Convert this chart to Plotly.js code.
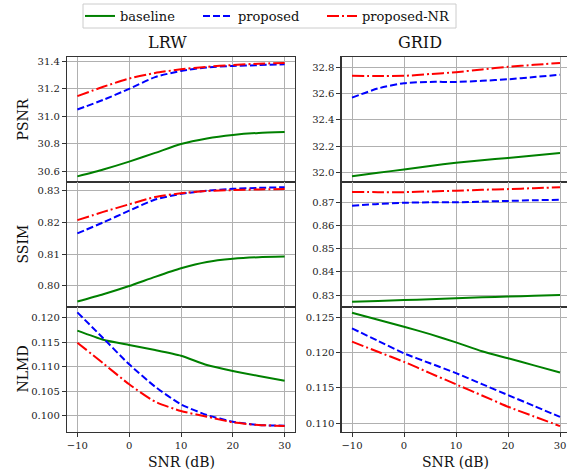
<!DOCTYPE html>
<html>
<head>
<meta charset="utf-8">
<script src="https://cdn.plot.ly/plotly-3.0.1.min.js"></script>
<style>html,body{margin:0;padding:0;background:#fff;}#chart{width:567px;height:471px;}</style>
</head>
<body>
<div id="chart"></div>
<script>
// SNR values (dB)
const snr = [-10, -5, 0, 5, 10, 15, 20, 25, 30];

// LRW
const lrwPsnrBaseline = [30.565, 30.615, 30.672, 30.735, 30.80, 30.84, 30.865, 30.88, 30.887];
const lrwPsnrProposed = [31.05, 31.12, 31.20, 31.285, 31.33, 31.355, 31.366, 31.372, 31.378];
const lrwPsnrProposedNR = [31.147, 31.215, 31.275, 31.315, 31.342, 31.36, 31.373, 31.382, 31.388];

const lrwSsimBaseline = [0.7950, 0.7973, 0.7999, 0.8028, 0.8055, 0.8075, 0.8085, 0.8090, 0.8092];
const lrwSsimProposed = [0.8165, 0.8200, 0.8237, 0.8272, 0.8290, 0.8300, 0.8306, 0.8309, 0.8311];
const lrwSsimProposedNR = [0.8207, 0.8233, 0.8257, 0.8280, 0.8292, 0.8299, 0.8302, 0.8304, 0.8305];

const lrwNlmdBaseline = [0.11735, 0.1155, 0.11442, 0.1134, 0.11224, 0.11034, 0.10912, 0.1081, 0.10714];
const lrwNlmdProposed = [0.12109, 0.1158, 0.11048, 0.10592, 0.10231, 0.10014, 0.09878, 0.0981, 0.09796];
const lrwNlmdProposedNR = [0.1149, 0.11068, 0.1064, 0.10286, 0.10095, 0.0998, 0.09864, 0.0981, 0.0979];

// GRID
const gridPsnrBaseline = [31.97, 31.996, 32.022, 32.048, 32.073, 32.092, 32.11, 32.129, 32.148];
const gridPsnrProposed = [32.57, 32.64, 32.68, 32.69, 32.69, 32.698, 32.71, 32.727, 32.745];
const gridPsnrProposedNR = [32.736, 32.735, 32.736, 32.75, 32.764, 32.785, 32.805, 32.82, 32.835];

const gridSsimBaseline = [0.8271, 0.8274, 0.8278, 0.8282, 0.8286, 0.8290, 0.8293, 0.8297, 0.8300];
const gridSsimProposed = [0.8685, 0.8693, 0.8698, 0.8700, 0.8700, 0.8703, 0.8706, 0.8709, 0.8711];
const gridSsimProposedNR = [0.87445, 0.8744, 0.8744, 0.8747, 0.8750, 0.8754, 0.8757, 0.8761, 0.8765];

const gridNlmdBaseline = [0.12565, 0.12466, 0.12367, 0.12262, 0.12146, 0.1202, 0.1192, 0.1182, 0.1172];
const gridNlmdProposed = [0.12344, 0.12167, 0.1199, 0.1185, 0.1171, 0.11555, 0.1140, 0.11245, 0.1109];
const gridNlmdProposedNR = [0.12155, 0.12012, 0.1187, 0.1171, 0.11552, 0.11394, 0.11235, 0.11097, 0.1096];

const seriesNames = ["baseline", "proposed", "proposed-NR"];
const colTitles = ["LRW", "GRID"];
const rowLabels = ["PSNR", "SSIM", "NLMD"];
const xLabel = "SNR (dB)";

const FONT = "DejaVu Serif";
const styles = [
  {color: "#008000", dash: "solid"},
  {color: "#0000ff", dash: "7px,3px"},
  {color: "#ff0000", dash: "12px,3px,2px,3px"}
];
const legendIds = ["legend", "legend2", "legend3"];

const panels = [
  [1, [lrwPsnrBaseline, lrwPsnrProposed, lrwPsnrProposedNR], 0],
  [2, [gridPsnrBaseline, gridPsnrProposed, gridPsnrProposedNR], 1],
  [3, [lrwSsimBaseline, lrwSsimProposed, lrwSsimProposedNR], 0],
  [4, [gridSsimBaseline, gridSsimProposed, gridSsimProposedNR], 1],
  [5, [lrwNlmdBaseline, lrwNlmdProposed, lrwNlmdProposedNR], 0],
  [6, [gridNlmdBaseline, gridNlmdProposed, gridNlmdProposedNR], 1]
];

const traces = [];
panels.forEach(([ai, arrs, col]) => {
  arrs.forEach((ys, si) => {
    traces.push({
      x: snr, y: ys, type: "scatter", mode: "lines",
      name: seriesNames[si],
      legend: legendIds[si],
      showlegend: ai === 1,
      xaxis: ai === 1 ? "x" : "x" + ai,
      yaxis: ai === 1 ? "y" : "y" + ai,
      line: {color: styles[si].color, dash: styles[si].dash, width: 2, shape: "spline", smoothing: 0.6},
      hoverinfo: "skip"
    });
  });
});

const L = 67, T = 57, W = 500, H = 375;
const px = v => (v - L) / W;          // pixel x -> paper x
const py = v => 1 + (T - v) / H;      // pixel y -> paper y
const colDom = [[0, 228 / W], [(341.6 - L) / W, 1]];
const rowDom = [[2 / 3, 1], [1 / 3, 2 / 3], [0, 1 / 3]];
const yRanges = [
  [30.524, 31.431], [31.926, 32.880],
  [0.79327, 0.83275], [0.82482, 0.87877],
  [0.09667, 0.12218], [0.10877, 0.12646]
];
const yDticks = [0.2, 0.2, 0.01, 0.01, 0.005, 0.005];
const yFormats = [".1f", ".1f", ".2f", ".2f", ".3f", ".3f"];

const layout = {
  width: 567, height: 471,
  margin: {l: L, r: 0, t: T, b: 471 - T - H},
  paper_bgcolor: "#fff", plot_bgcolor: "#fff",
  font: {family: FONT, size: 10, color: "#222"},
  showlegend: true,
  annotations: [],
  shapes: [{
    type: "rect", xref: "paper", yref: "paper",
    x0: px(83), x1: px(456), y0: py(28), y1: py(4),
    line: {color: "#cccccc", width: 1}, fillcolor: "rgba(255,255,255,0.8)", layer: "below"
  }]
};
const legendStarts = [86, 204, 328];
legendIds.forEach((id, k) => {
  layout[id] = {
    orientation: "h", x: px(legendStarts[k] - 6), xanchor: "left",
    y: py(16), yanchor: "middle",
    bgcolor: "rgba(0,0,0,0)", borderwidth: 0,
    font: {family: FONT, size: 13, color: "#111"},
    itemwidth: 30
  };
});

for (let i = 1; i <= 6; i++) {
  const col = (i - 1) % 2, row = Math.floor((i - 1) / 2);
  const xk = i === 1 ? "xaxis" : "xaxis" + i;
  const yk = i === 1 ? "yaxis" : "yaxis" + i;
  const bottom = row === 2;
  layout[xk] = {
    domain: colDom[col],
    anchor: i === 1 ? "y" : "y" + i,
    range: col === 0 ? [-12, 32] : [-12, -12 + (567 - 341.6) / 5.2],
    tickvals: [-10, 0, 10, 20, 30],
    showticklabels: bottom,
    ticks: bottom ? "outside" : "",
    ticklen: 4, tickcolor: "#333",
    showgrid: true, gridcolor: "#b0b0b0", gridwidth: 1,
    zeroline: false,
    showline: true, linecolor: "#333", linewidth: 1.2, mirror: true,
    tickfont: {family: FONT, size: 10, color: "#222"}
  };
  layout[yk] = {
    domain: rowDom[row],
    anchor: i === 1 ? "x" : "x" + i,
    range: yRanges[i - 1],
    dtick: yDticks[i - 1],
    tick0: 0,
    tickformat: yFormats[i - 1],
    ticks: "outside", ticklen: 4, tickcolor: "#333",
    showgrid: true, gridcolor: "#b0b0b0", gridwidth: 1,
    zeroline: false,
    showline: true, linecolor: "#333", linewidth: 1.2, mirror: col === 0,
    tickfont: {family: FONT, size: 10, color: "#222"}
  };
}

layout.annotations.push(
  {text: colTitles[0], xref: "paper", yref: "paper", x: px(167), y: py(43),
   xanchor: "center", yanchor: "middle", showarrow: false, font: {family: FONT, size: 16, color: "#111"}},
  {text: colTitles[1], xref: "paper", yref: "paper", x: px(420), y: py(43),
   xanchor: "center", yanchor: "middle", showarrow: false, font: {family: FONT, size: 16, color: "#111"}}
);
rowLabels.forEach((t, r) => {
  layout.annotations.push({
    text: t, xref: "paper", yref: "paper", x: px(22), y: (rowDom[r][0] + rowDom[r][1]) / 2,
    xanchor: "center", yanchor: "middle", textangle: -90, showarrow: false,
    font: {family: FONT, size: 14, color: "#111"}
  });
});
layout.annotations.push(
  {text: xLabel, xref: "paper", yref: "paper", x: px(181), y: py(462),
   xanchor: "center", yanchor: "middle", showarrow: false, font: {family: FONT, size: 14, color: "#111"}},
  {text: xLabel, xref: "paper", yref: "paper", x: px(455.5), y: py(462),
   xanchor: "center", yanchor: "middle", showarrow: false, font: {family: FONT, size: 14, color: "#111"}}
);

Plotly.newPlot("chart", traces, layout, {displayModeBar: false, staticPlot: true});
</script>
</body>
</html>
